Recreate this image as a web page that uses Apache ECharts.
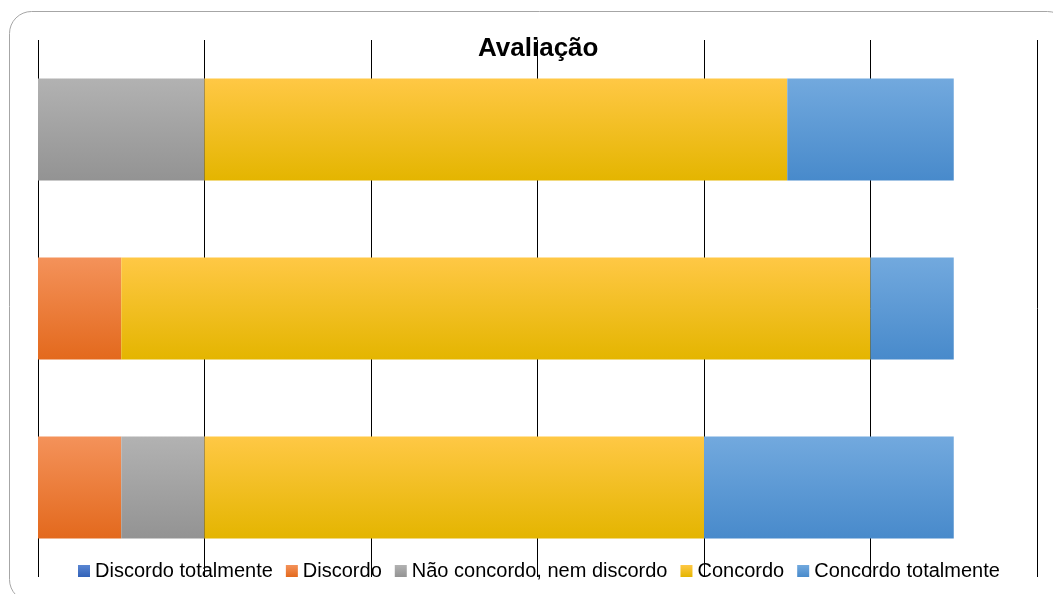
<!DOCTYPE html>
<html>
<head>
<meta charset="utf-8">
<title>Avaliação</title>
<script src="https://cdn.jsdelivr.net/npm/echarts@6/dist/echarts.min.js"></script>
<style>
  html, body { margin: 0; padding: 0; background: #ffffff; }
  #chart { width: 1053px; height: 594px; }
</style>
</head>
<body>
<div id="chart"></div>
<script>
// Survey answers per question (bottom to top)
const categories = ['Q3', 'Q2', 'Q1'];
const discordoTotalmente = [0, 0, 0];
const discordo = [1, 1, 0];
const naoConcordoNemDiscordo = [1, 0, 2];
const concordo = [6, 9, 7];
const concordoTotalmente = [3, 1, 2];

const seriesNames = ['Discordo totalmente', 'Discordo', 'Não concordo, nem discordo', 'Concordo', 'Concordo totalmente'];
const seriesData = [discordoTotalmente, discordo, naoConcordoNemDiscordo, concordo, concordoTotalmente];
const legendColors = ['#3d6fc6', '#ef7a2e', '#a5a5a5', '#fcc200', '#5b9bd5'];
const gradients = [
  ['#5a86d2', '#3262b8'],
  ['#f4925a', '#e3691d'],
  ['#b2b2b2', '#939393'],
  ['#ffc845', '#e4b500'],
  ['#72a9de', '#488acb']
];

function vGrad(c) {
  return new echarts.graphic.LinearGradient(0, 0, 0, 1, [
    { offset: 0, color: c[0] },
    { offset: 1, color: c[1] }
  ]);
}

const chart = echarts.init(document.getElementById('chart'), null, { renderer: 'canvas' });
chart.setOption({
  animation: false,
  backgroundColor: '#ffffff',
  color: legendColors,
  title: {
    text: 'Avaliação',
    left: 473,
    top: 31,
    textStyle: { fontFamily: 'Liberation Sans, Arial, sans-serif', fontSize: 26, fontWeight: 'bold', color: '#000000' }
  },
  graphic: [{
    type: 'rect',
    z: -10,
    silent: true,
    shape: { x: 9.5, y: 11.5, width: 1060, height: 590, r: 22 },
    style: { fill: 'none', stroke: '#a6a6a6', lineWidth: 1 }
  }],
  legend: {
    top: 556,
    left: 73,
    itemWidth: 12,
    itemHeight: 12,
    itemGap: 13,
    icon: 'rect',
    textStyle: { fontFamily: 'Liberation Sans, Arial, sans-serif', fontSize: 20, color: '#000000' },
    data: seriesNames
  },
  grid: { left: 38, right: 16, top: 40, bottom: 17, containLabel: false },
  xAxis: {
    type: 'value',
    min: 0,
    max: 12,
    interval: 2,
    axisLabel: { show: false },
    axisLine: { show: false },
    axisTick: { show: false },
    splitLine: { show: true, lineStyle: { color: '#000000', width: 1 } }
  },
  yAxis: {
    type: 'category',
    data: categories,
    axisLabel: { show: false },
    axisLine: { show: false },
    axisTick: { show: false }
  },
  series: seriesNames.map((name, i) => ({
    name: name,
    type: 'bar',
    stack: 'total',
    barCategoryGap: '43%',
    data: seriesData[i],
    itemStyle: { color: vGrad(gradients[i]) }
  }))
});
</script>
</body>
</html>
